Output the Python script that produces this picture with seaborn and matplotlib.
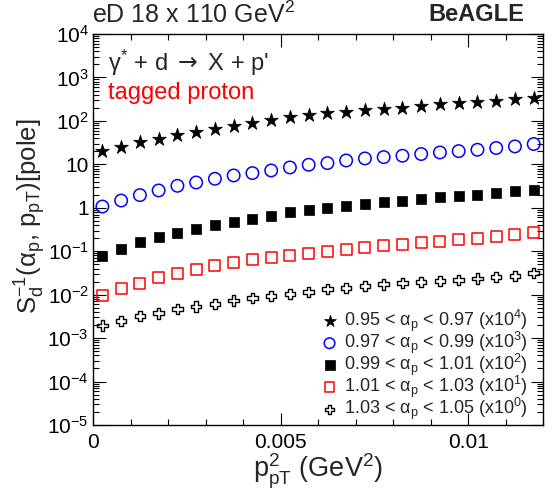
import numpy as np
import pandas as pd
import matplotlib
matplotlib.use("Agg")
import matplotlib.pyplot as plt
import seaborn as sns
from matplotlib.ticker import FixedLocator, LogLocator, FuncFormatter, MultipleLocator, NullFormatter

# ---------------- data ----------------
pt2 = [0.00025, 0.00075, 0.00125, 0.00175, 0.00225, 0.00275, 0.00325, 0.00375,
       0.00425, 0.00475, 0.00525, 0.00575, 0.00625, 0.00675, 0.00725, 0.00775,
       0.00825, 0.00875, 0.00925, 0.00975, 0.01025, 0.01075, 0.01125, 0.01175]

s_095_097 = [19.8, 25.5, 32.0, 39.0, 47.0, 56.0, 66.0, 78.0, 92.0, 105.0, 120.0, 135.0,
             150.0, 163.0, 175.0, 188.0, 200.0, 220.0, 240.0, 255.0, 275.0, 292.0, 318.0, 345.0]
s_097_099 = [1.07, 1.47, 1.96, 2.51, 3.21, 3.83, 4.66, 5.56, 6.30, 7.24, 8.49, 9.79,
             10.7, 12.3, 13.7, 14.7, 15.8, 17.3, 18.8, 20.2, 21.7, 23.8, 25.9, 29.4]
s_099_101 = [0.078, 0.114, 0.159, 0.218, 0.270, 0.322, 0.399, 0.475, 0.567, 0.654, 0.780, 0.900,
             1.00, 1.11, 1.24, 1.35, 1.45, 1.58, 1.73, 1.89, 2.02, 2.18, 2.38, 2.60]
s_101_103 = [0.0097, 0.0141, 0.0184, 0.0248, 0.0302, 0.0373, 0.0461, 0.0550, 0.0634, 0.0716, 0.0813, 0.0904,
             0.100, 0.112, 0.124, 0.133, 0.143, 0.159, 0.171, 0.186, 0.200, 0.218, 0.243, 0.270]
s_103_105 = [0.00195, 0.00249, 0.00325, 0.00374, 0.00463, 0.00533, 0.00614, 0.00733, 0.00830, 0.00938, 0.0104, 0.0116,
             0.0134, 0.0144, 0.0160, 0.0174, 0.0184, 0.0197, 0.0208, 0.0219, 0.0235, 0.0253, 0.0271, 0.0313]

labels = [
    "0.95 < α$_\\mathregular{p}$ < 0.97 (x10$^\\mathregular{4}$)",
    "0.97 < α$_\\mathregular{p}$ < 0.99 (x10$^\\mathregular{3}$)",
    "0.99 < α$_\\mathregular{p}$ < 1.01 (x10$^\\mathregular{2}$)",
    "1.01 < α$_\\mathregular{p}$ < 1.03 (x10$^\\mathregular{1}$)",
    "1.03 < α$_\\mathregular{p}$ < 1.05 (x10$^\\mathregular{0}$)",
]
series = [s_095_097, s_097_099, s_099_101, s_101_103, s_103_105]

x_ticks = [0, 0.005, 0.01]
y_ticks = [1e-5, 1e-4, 1e-3, 1e-2, 1e-1, 1, 10, 1e2, 1e3, 1e4]

# ---------------- style ----------------
sns.set_style("ticks")
plt.rcParams["font.family"] = ["Liberation Sans", "DejaVu Sans"]
plt.rcParams["mathtext.fontset"] = "custom"
plt.rcParams["mathtext.rm"] = "Liberation Sans"
plt.rcParams["mathtext.it"] = "Liberation Sans:italic"
plt.rcParams["mathtext.bf"] = "Liberation Sans:bold"
plt.rcParams["mathtext.sf"] = "DejaVu Sans"

styles = [
    dict(marker="*", s=110, face="black", edge="black", lw=0.5),
    dict(marker="o", s=80, face="none", edge="blue", lw=1.1),
    dict(marker="s", s=62, face="black", edge="black", lw=0.5),
    dict(marker="s", s=62, face="none", edge="red", lw=1.1),
    dict(marker="P", s=58, face="none", edge="black", lw=1.0),
]

fig = plt.figure(figsize=(5.57, 4.98), dpi=100)
ax = fig.add_axes([0.167, 0.1466, 0.808, 0.785])

handles = []
for vals, lab, st in zip(series, labels, styles):
    df = pd.DataFrame({"x": pt2, "y": vals})
    n0 = len(ax.collections)
    sns.scatterplot(data=df, x="x", y="y", ax=ax, marker=st["marker"], s=st["s"],
                    color=st["edge"], linewidth=st["lw"], legend=False)
    coll = ax.collections[n0]
    coll.set_facecolor(st["face"])
    coll.set_edgecolor(st["edge"])
    coll.set_linewidth(st["lw"])
    coll.set_label(lab)
    handles.append(coll)

ax.set_yscale("log")
ax.set_xlim(0, 0.012)
ax.set_ylim(1e-5, 1e4)

ax.xaxis.set_major_locator(FixedLocator(x_ticks))
ax.xaxis.set_minor_locator(MultipleLocator(0.001))
ax.xaxis.set_major_formatter(FuncFormatter(lambda v, p: "%g" % v))

def yfmt(v, p):
    e = int(round(np.log10(v)))
    if e == 0:
        return "1"
    if e == 1:
        return "10"
    return "10$^{\\mathregular{%d}}$" % e

ax.yaxis.set_major_locator(FixedLocator(y_ticks))
ax.yaxis.set_minor_locator(LogLocator(base=10, subs=np.arange(2, 10), numticks=100))
ax.yaxis.set_major_formatter(FuncFormatter(yfmt))
ax.yaxis.set_minor_formatter(NullFormatter())

ax.tick_params(which="both", direction="in", top=True, right=True, width=0.8, colors="black")
ax.tick_params(axis="x", which="major", length=9, pad=6, labelsize=15)
ax.tick_params(axis="y", which="major", length=9, pad=3, labelsize=15)
ax.tick_params(which="minor", length=4.5)
for sp in ax.spines.values():
    sp.set_linewidth(1.0)
    sp.set_color("black")

ax.set_xlabel("p$^\\mathregular{2}_\\mathregular{pT}$ (GeV$^\\mathregular{2}$)", fontsize=19.5, labelpad=0)
ax.set_ylabel("S$_\\mathregular{d}^\\mathregular{-1}$(α$_\\mathregular{p}$, p$_\\mathregular{pT}$)[pole]",
              fontsize=18.5)
ax.yaxis.set_label_coords(-0.10, 0.535)

fig.text(92 / 557, 1 - 14.5 / 498, "eD 18 x 110 GeV$^\\mathregular{2}$", fontsize=18,
         ha="left", va="center")
fig.text(524 / 557, 1 - 14.5 / 498, "BeAGLE", fontsize=17, fontweight="bold",
         ha="right", va="center")
ax.text(0.033, 0.926, "γ$^\\mathregular{*}$ + d $\\mathsf{\\rightarrow}$ X + p'", transform=ax.transAxes,
        fontsize=17, ha="left", va="center")
ax.text(0.033, 0.849, "tagged proton", transform=ax.transAxes, color="red",
        fontsize=17, ha="left", va="center")

ax.legend(handles=handles, loc="lower right", bbox_to_anchor=(0.986, -0.015),
          frameon=False, fontsize=13, handletextpad=0.3, labelspacing=-0.24,
          borderpad=0, handlelength=1.0, markerscale=0.85)

fig.savefig("out.png", dpi=100)
